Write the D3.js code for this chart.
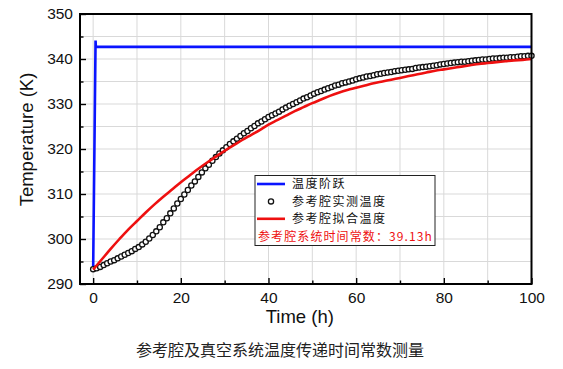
<!DOCTYPE html>
<html>
<head>
<meta charset="utf-8">
<script src="https://cdn.jsdelivr.net/npm/d3@7/dist/d3.min.js"></script>
<style>
  html, body { margin: 0; padding: 0; background: #fff; }
  svg { display: block; }
</style>
</head>
<body>
<svg id="chart" width="563" height="369"></svg>
<script>
// ---- data ----
const xTicks = [0, 20, 40, 60, 80, 100];
const yTicks = [290, 300, 310, 320, 330, 340, 350];
const xMinor = [10, 30, 50, 70, 90];
const yMinor = [295, 305, 315, 325, 335, 345];

// step input (blue)
const stepTime = [0, 0.55, 0.62, 100];
const stepTemp = [293.2, 344.1, 342.7, 342.7];

// measured reference-cavity temperature (circles), one sample every 0.8 h
const measStep = 0.8;
const measTemp = [
  293.3, 293.5, 293.8, 294.2, 294.6, 295.0, 295.3, 295.7, 296.1, 296.5,
  296.9, 297.3, 297.8, 298.2, 298.8, 299.4, 300.1, 300.9, 301.7, 302.6,
  303.7, 304.6, 305.7, 306.8, 307.9, 308.9, 309.9, 310.9, 311.9, 312.8,
  313.8, 314.8, 315.7, 316.5, 317.4, 318.2, 319.0, 319.7, 320.4, 321.1,
  321.7, 322.3, 322.9, 323.5, 324.0, 324.6, 325.1, 325.7, 326.1, 326.6,
  327.1, 327.5, 327.9, 328.3, 328.8, 329.2, 329.6, 330.0, 330.4, 330.8,
  331.2, 331.5, 331.9, 332.3, 332.6, 332.9, 333.2, 333.5, 333.8, 334.1,
  334.3, 334.6, 334.8, 335.0, 335.2, 335.5, 335.7, 335.9, 336.1, 336.2,
  336.4, 336.6, 336.7, 336.9, 337.0, 337.1, 337.3, 337.4, 337.5, 337.6,
  337.7, 337.8, 338.0, 338.1, 338.2, 338.3, 338.4, 338.5, 338.6, 338.8,
  338.9, 339.0, 339.1, 339.2, 339.3, 339.4, 339.4, 339.5, 339.6, 339.7,
  339.8, 339.9, 339.9, 340.0, 340.1, 340.1, 340.2, 340.3, 340.3, 340.4,
  340.4, 340.5, 340.6, 340.6, 340.7, 340.7
];

// fitted curve (red), one value every 2 h
const fitStep = 2;
const fitTemp = [
  293.2, 295.5, 297.8, 300.0, 302.1, 304.0, 305.9, 307.7, 309.4, 311.0,
  312.6, 314.1, 315.6, 317.0, 318.3, 319.6, 320.8, 322.0, 323.1, 324.2,
  325.4, 326.4, 327.4, 328.4, 329.3, 330.2, 331.0, 331.8, 332.5, 333.1,
  333.6, 334.1, 334.6, 335.0, 335.4, 335.8, 336.2, 336.6, 337.0, 337.4,
  337.7, 338.0, 338.3, 338.6, 338.9, 339.1, 339.3, 339.5, 339.7, 339.8,
  340.0
];

const legendLabels = ["温度阶跃", "参考腔实测温度", "参考腔拟合温度"];
const noteText = "参考腔系统时间常数：39.13h";
const xTitle = "Time (h)";
const yTitle = "Temperature (K)";
const caption = "参考腔及真空系统温度传递时间常数测量";

// ---- chart ----
const L = 80, R = 531.5, T = 14, B = 284;
const svg = d3.select("#chart");
const x = d3.scaleLinear().domain([-3, 100]).range([L, R]);
const y = d3.scaleLinear().domain([290, 350]).range([B, T]);

const latin = "Arial, 'Liberation Sans', Helvetica, sans-serif";
const cjk = "'Noto Sans CJK SC', 'Noto Sans', sans-serif";

// grid
const grid = svg.append("g");
grid.selectAll("line.gx").data(xTicks.concat(xMinor)).join("line")
  .attr("x1", d => x(d)).attr("x2", d => x(d)).attr("y1", T).attr("y2", B)
  .attr("stroke", "#d9d9d9").attr("stroke-width", 1);
grid.selectAll("line.gy").data(yTicks.concat(yMinor)).join("line")
  .attr("x1", L).attr("x2", R).attr("y1", d => y(d)).attr("y2", d => y(d))
  .attr("stroke", "#d9d9d9").attr("stroke-width", 1);

// curves
const measPts = measTemp.map((v, i) => [i * measStep, v]);
const fitPts = fitTemp.map((v, i) => [i * fitStep, v]);
const stepPts = stepTime.map((t, i) => [t, stepTemp[i]]);

const line = d3.line().x(d => x(d[0])).y(d => y(d[1]));
const smooth = d3.line().x(d => x(d[0])).y(d => y(d[1])).curve(d3.curveMonotoneX);

svg.append("path").datum(stepPts).attr("d", line)
  .attr("fill", "none").attr("stroke", "#0a14ff").attr("stroke-width", 2.6);

svg.append("g").selectAll("circle").data(measPts).join("circle")
  .attr("cx", d => x(d[0])).attr("cy", d => y(d[1])).attr("r", 2.6)
  .attr("fill", "#fff").attr("stroke", "#111").attr("stroke-width", 1.3);

svg.append("path").datum(fitPts).attr("d", smooth)
  .attr("fill", "none").attr("stroke", "#ee1010").attr("stroke-width", 2.6);

// axes
function styleAxis(g) {
  g.selectAll(".domain").remove();
  g.selectAll(".tick line").attr("stroke", "#000").attr("stroke-width", 1.4);
  g.selectAll(".tick text").attr("font-family", latin).attr("font-size", 15.5).attr("fill", "#111");
}
svg.append("g").attr("transform", `translate(0,${B})`)
  .call(d3.axisBottom(x).tickValues(xTicks).tickSize(-6).tickPadding(8).tickFormat(d3.format("d")))
  .call(styleAxis);
svg.append("g").attr("transform", `translate(0,${B})`)
  .call(d3.axisBottom(x).tickValues(xMinor).tickSize(-3.5).tickFormat(""))
  .call(styleAxis);
svg.append("g").attr("transform", `translate(${L},0)`)
  .call(d3.axisLeft(y).tickValues(yTicks).tickSize(-6).tickPadding(7).tickFormat(d3.format("d")))
  .call(styleAxis);
svg.append("g").attr("transform", `translate(${L},0)`)
  .call(d3.axisLeft(y).tickValues(yMinor).tickSize(-3.5).tickFormat(""))
  .call(styleAxis);

// frame
svg.append("rect").attr("x", L).attr("y", T).attr("width", R - L).attr("height", B - T)
  .attr("fill", "none").attr("stroke", "#000").attr("stroke-width", 2);

// axis titles
svg.append("text").attr("x", (L + R) / 2 - 6).attr("y", 323)
  .attr("text-anchor", "middle").attr("font-family", latin).attr("font-size", 18.5)
  .attr("fill", "#111").text(xTitle);
svg.append("text").attr("transform", "translate(32.5,139.5) rotate(-90)")
  .attr("text-anchor", "middle").attr("font-family", latin).attr("font-size", 18.5)
  .attr("fill", "#111").text(yTitle);

// legend
const lg = svg.append("g");
lg.append("rect").attr("x", 255).attr("y", 175.5).attr("width", 180).attr("height", 70)
  .attr("fill", "#fff").attr("stroke", "#222").attr("stroke-width", 1);
const rowY = [184, 201.4, 218.8, 236.2];
lg.append("line").attr("x1", 257).attr("x2", 285).attr("y1", rowY[0]).attr("y2", rowY[0])
  .attr("stroke", "#0a14ff").attr("stroke-width", 2.6);
lg.append("circle").attr("cx", 271).attr("cy", rowY[1]).attr("r", 2.6)
  .attr("fill", "#fff").attr("stroke", "#111").attr("stroke-width", 1.3);
lg.append("line").attr("x1", 257).attr("x2", 285).attr("y1", rowY[2]).attr("y2", rowY[2])
  .attr("stroke", "#ee1010").attr("stroke-width", 2.6);
lg.selectAll("text.lab").data(legendLabels).join("text")
  .attr("x", 292).attr("y", (d, i) => rowY[i]).attr("dy", "0.36em")
  .attr("font-family", cjk).attr("font-size", 12).attr("letter-spacing", 1.5)
  .attr("fill", "#111").text(d => d);
lg.append("text").attr("x", 258).attr("y", rowY[3]).attr("dy", "0.36em")
  .attr("font-family", cjk).attr("font-size", 12).attr("letter-spacing", 1.1)
  .attr("fill", "#ee1010").text(noteText);

// caption
svg.append("text").attr("x", 136).attr("y", 350).attr("dy", "0.36em")
  .attr("font-family", cjk).attr("font-size", 16).attr("fill", "#222").text(caption);
</script>
</body>
</html>
